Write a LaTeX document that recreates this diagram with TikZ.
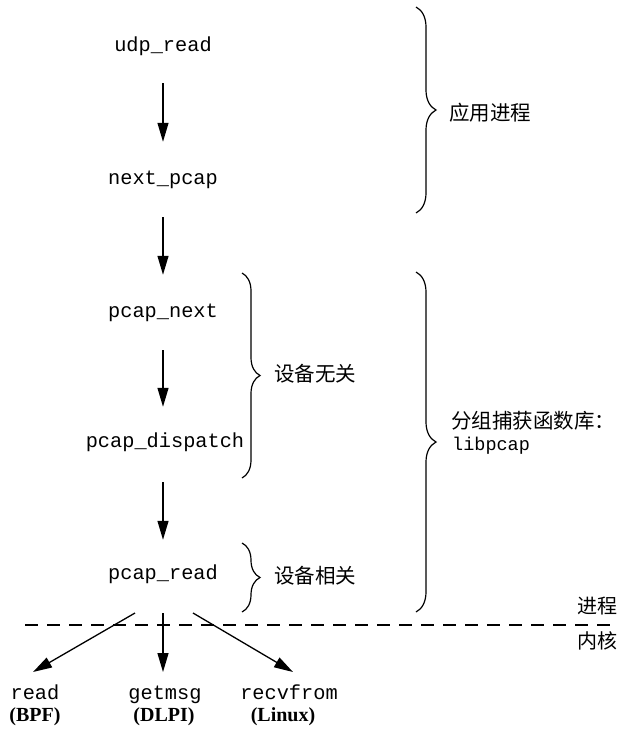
\documentclass[tikz,border=0pt]{standalone}
\usepackage{fontspec}
\setmainfont{Liberation Serif}
\setmonofont{Liberation Mono}
\newfontfamily\cjk{Noto Sans CJK SC}
\usetikzlibrary{arrows.meta,decorations.pathreplacing}
\begin{document}
\begin{tikzpicture}[x=1pt,y=1pt,
  fn/.style={font=\ttfamily\fontsize{20.3}{21}\selectfont, inner sep=0pt, text height=12pt, text depth=4pt},
  lbl/.style={font=\cjk\fontsize{20.5}{21}\selectfont, inner sep=0pt, anchor=west},
  sys/.style={font=\bfseries\fontsize{20}{20}\selectfont, inner sep=0pt},
  arr/.style={line width=1.3pt, -{Triangle[length=19pt,width=11pt]}},
  brc/.style={line width=1.2pt, decorate, decoration={brace, amplitude=#1}},
  brc/.default=20pt]
\useasboundingbox (0,0) rectangle (620,-731);
% function nodes
\node[fn] (udp) at (163,-47) {udp\_read};
\node[fn] (nxt) at (163,-180) {next\_pcap};
\node[fn] (pn) at (163,-313) {pcap\_next};
\node[fn] (pd) at (165,-443) {pcap\_dispatch};
\node[fn] (pr) at (163,-575) {pcap\_read};
% arrows
\draw[arr, shorten <=28pt, shorten >=30pt] (udp.south) -- (nxt.north);
\draw[arr, shorten <=29pt, shorten >=30pt] (nxt.south) -- (pn.north);
\draw[arr, shorten <=29pt, shorten >=28pt] (pn.south) -- (pn.south |- pd.north);
\draw[arr, shorten <=31pt, shorten >=27pt] (pn.south |- pd.south) -- (pr.north);
% kernel functions
\node[fn] (rdk) at (35,-695) {read};
\node[sys] (bpf) at (35,-717) {(BPF)};
\node[fn] (gm) at (165,-695) {getmsg};
\node[sys] (dlpi) at (164,-717) {(DLPI)};
\node[fn] (rv) at (289,-695) {recvfrom};
\node[sys] (lnx) at (283,-717) {(Linux)};
\coordinate (s1) at (135,-613);
\coordinate (s2) at (163,-613);
\coordinate (s3) at (193,-613);
\coordinate (e1) at (33,-672);
\coordinate (e2) at (163,-672);
\coordinate (e3) at (293,-672);
\draw[arr] (s1) -- (e1);
\draw[arr] (s2) -- (e2);
\draw[arr] (s3) -- (e3);
% dashed line
\coordinate (dl) at (25,-625);
\coordinate (dr) at (612,-625);
\draw[line width=1.2pt, dash pattern=on 13pt off 9pt] (dl) -- (dr);
\node[font=\cjk\fontsize{20}{20}\selectfont, inner sep=0pt] (proc) at (597,-606) {进程};
\node[font=\cjk\fontsize{20}{20}\selectfont, inner sep=0pt] (kern) at (597,-641) {内核};
% braces
\coordinate (b1t) at (416,-7);
\coordinate (b1b) at (416,-213);
\draw[brc] (b1t) -- (b1b);
\node[lbl] (app) at (449,-113) {应用进程};
\coordinate (b2t) at (242,-273);
\coordinate (b2b) at (242,-478);
\draw[brc=18pt] (b2t) -- (b2b);
\node[lbl] (indep) at (274,-374) {设备无关};
\coordinate (b3t) at (242,-543);
\coordinate (b3b) at (242,-612);
\draw[brc=18pt] (b3t) -- (b3b);
\node[lbl] (dep) at (274,-576) {设备相关};
\coordinate (b4t) at (416,-272);
\coordinate (b4b) at (416,-612);
\draw[brc] (b4t) -- (b4b);
\node[lbl] (lib) at (451,-421) {分组捕获函数库：};
\node[fn, anchor=west, font=\ttfamily\fontsize{18.5}{19}\selectfont] (libp) at (452,-446) {libpcap};
\end{tikzpicture}
\end{document}
